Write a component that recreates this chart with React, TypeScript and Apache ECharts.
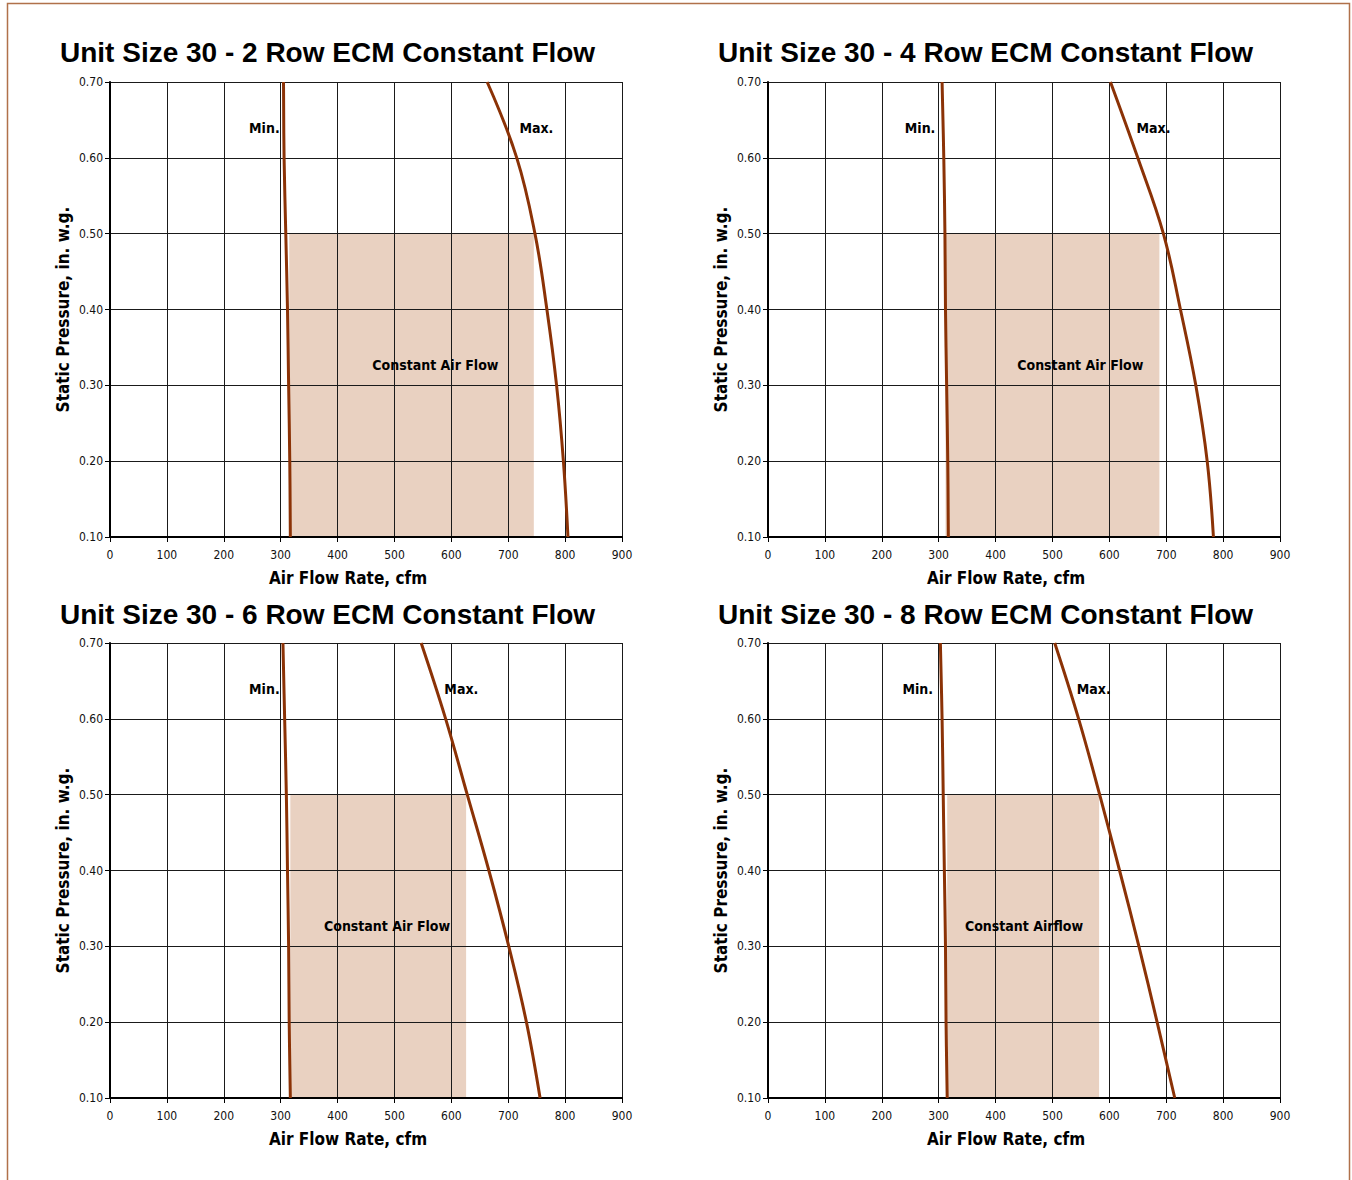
import React, { useEffect, useRef } from "react";
import * as echarts from "echarts";

// ---- data ----
const titles = [
  "Unit Size 30 - 2 Row ECM Constant Flow",
  "Unit Size 30 - 4 Row ECM Constant Flow",
  "Unit Size 30 - 6 Row ECM Constant Flow",
  "Unit Size 30 - 8 Row ECM Constant Flow",
];
const areaLabels = ["Constant Air Flow", "Constant Air Flow", "Constant Air Flow", "Constant Airflow"];

const pressure = [0.7, 0.6, 0.5, 0.4, 0.3, 0.2, 0.1];
const minFlow2Row = [305, 306, 309, 312, 314, 316, 317];
const minFlow4Row = [306, 309, 311, 312, 314, 316, 317];
const minFlow6Row = [304, 307, 310, 312, 314, 315, 317];
const minFlow8Row = [303, 306, 308, 310, 312, 313, 315];

const maxFlow2Row = [663, 715, 747, 768, 785, 797, 805];
const maxFlow4Row = [602, 650, 695, 725, 752, 772, 783];
const maxFlow6Row = [547, 590, 628, 666, 701, 732, 756];
const maxFlow8Row = [504, 546, 583, 618, 652, 684, 715];

// constant-airflow region: flow from / to, pressure from / to
const regionFlowLow = [315, 312, 317, 315];
const regionFlowHigh = [745, 688, 626, 582];
const regionPressureLow = 0.1;
const regionPressureHigh = 0.5;

// label anchors [flow, pressure]
const minLabelAt = [[300, 0.64], [296, 0.64], [300, 0.64], [292, 0.64]];
const maxLabelAt = [[718, 0.64], [646, 0.64], [586, 0.64], [541, 0.64]];
const areaLabelAt = [[572, 0.327], [549, 0.327], [487, 0.327], [450, 0.327]];

const xTicks = { min: 0, max: 900, interval: 100 };
const yTicks = { min: 0.1, max: 0.7, interval: 0.1 };
const xAxisName = "Air Flow Rate, cfm";
const yAxisName = "Static Pressure, in. w.g.";

const minCurves = [minFlow2Row, minFlow4Row, minFlow6Row, minFlow8Row];
const maxCurves = [maxFlow2Row, maxFlow4Row, maxFlow6Row, maxFlow8Row];

const NARROW = "'Liberation Sans Narrow', 'DejaVu Sans Condensed', 'Arial Narrow', sans-serif";
const WIDE = "'Liberation Sans', Arial, Helvetica, sans-serif";
const CURVE = "#8B3206";
const SHADE = "#E9D1C1";

const gridPos = [
  { left: 110, top: 82 },
  { left: 768, top: 82 },
  { left: 110, top: 643 },
  { left: 768, top: 643 },
];
const titlePos = [
  { left: 60, top: 38 },
  { left: 718, top: 38 },
  { left: 60, top: 600 },
  { left: 718, top: 600 },
];

export default function App() {
  const ref = useRef<HTMLDivElement>(null);
  useEffect(() => {
    if (!ref.current) return;
    const chart = echarts.init(ref.current, undefined, { renderer: "svg" });
    const grid = gridPos.map((g) => ({ left: g.left, top: g.top, width: 512, height: 455, containLabel: false }));
    const title = titles.map((t, i) => ({
      text: t,
      left: titlePos[i].left,
      top: titlePos[i].top,
      padding: 0,
      textStyle: { fontFamily: WIDE, fontWeight: "bold", fontSize: 28, color: "#000" },
    }));
    const xAxis = titles.map((_, i) => ({
      type: "value",
      gridIndex: i,
      z: 3,
      min: xTicks.min,
      max: xTicks.max,
      interval: xTicks.interval,
      name: xAxisName,
      nameLocation: "middle",
      nameGap: 32,
      nameTextStyle: {
        fontFamily: NARROW,
        fontWeight: "bold",
        fontSize: 17,
        color: "#000",
        padding: [0, 36, 0, 0],
      },
      axisLine: { show: true, onZero: false, lineStyle: { color: "#000", width: 2 } },
      axisTick: { show: true, length: 5, lineStyle: { color: "#000", width: 1 } },
      axisLabel: { margin: 12, fontFamily: NARROW, fontSize: 12, color: "#111" },
      splitLine: { show: true, lineStyle: { color: "#1a1a1a", width: 1 } },
    }));
    const yAxis = titles.map((_, i) => ({
      type: "value",
      gridIndex: i,
      z: 3,
      min: yTicks.min,
      max: yTicks.max,
      interval: yTicks.interval,
      name: yAxisName,
      nameLocation: "middle",
      nameGap: 39,
      nameTextStyle: { fontFamily: NARROW, fontWeight: "bold", fontSize: 17, color: "#000" },
      axisLine: { show: true, onZero: false, lineStyle: { color: "#000", width: 2 } },
      axisTick: { show: true, length: 5, lineStyle: { color: "#000", width: 1 } },
      axisLabel: {
        margin: 7,
        fontFamily: NARROW,
        fontSize: 12,
        color: "#111",
        formatter: (v: number) => v.toFixed(2),
      },
      splitLine: { show: true, lineStyle: { color: "#1a1a1a", width: 1 } },
    }));
    const series: any[] = [];
    titles.forEach((_, i) => {
      series.push({
        type: "scatter",
        xAxisIndex: i,
        yAxisIndex: i,
        z: 1,
        symbolSize: 0,
        silent: true,
        data: [[regionFlowLow[i], regionPressureLow]],
        markArea: {
          silent: true,
          itemStyle: { color: SHADE, borderWidth: 0, opacity: 1 },
          data: [[
            { coord: [regionFlowLow[i], regionPressureLow] },
            { coord: [regionFlowHigh[i], regionPressureHigh] },
          ]],
        },
      });
      [minCurves[i], maxCurves[i]].forEach((curve) => {
        series.push({
          type: "line",
          xAxisIndex: i,
          yAxisIndex: i,
          z: 5,
          smooth: 0.4,
          showSymbol: false,
          symbol: "none",
          lineStyle: { color: CURVE, width: 3 },
          data: curve.map((f, k) => [f, pressure[k]]),
        });
      });
      const lbl = (pos: string, text: string, size: number) => ({
        show: true,
        position: pos,
        distance: 1,
        formatter: text,
        fontFamily: NARROW,
        fontWeight: "bold",
        fontSize: size,
        color: "#000",
      });
      series.push({
        type: "scatter",
        xAxisIndex: i,
        yAxisIndex: i,
        symbolSize: 0,
        silent: true,
        z: 6,
        itemStyle: { opacity: 1 },
        data: [
          { value: minLabelAt[i], label: lbl("left", "Min.", 14) },
          { value: maxLabelAt[i], label: lbl("right", "Max.", 14) },
          { value: areaLabelAt[i], label: lbl("inside", areaLabels[i], 14) },
        ],
      });
    });
    chart.setOption({
      animation: false,
      backgroundColor: "#fff",
      title,
      grid,
      xAxis,
      yAxis,
      series,
      graphic: [
        {
          type: "rect",
          shape: { x: 7.5, y: 3.5, width: 1342, height: 1200 },
          style: { fill: "none", stroke: "#B0714A", lineWidth: 1.5 },
          silent: true,
        },
      ],
    });
    return () => chart.dispose();
  }, []);
  return <div ref={ref} style={{ position: "fixed", left: 0, top: 0, width: 1352, height: 1180 }} />;
}
